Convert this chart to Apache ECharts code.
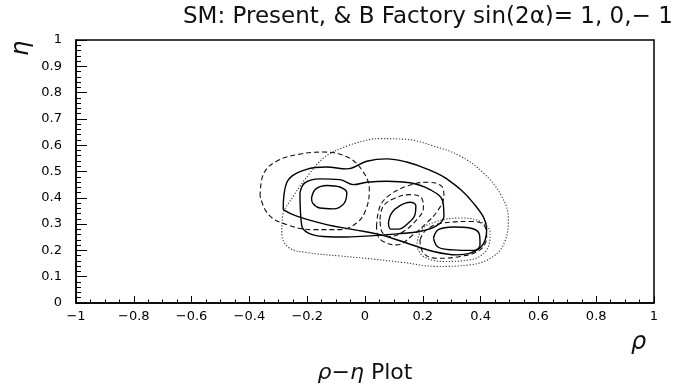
<!DOCTYPE html>
<html><head><meta charset="utf-8">
<script src="https://cdn.jsdelivr.net/npm/echarts/dist/echarts.min.js"></script>
<style>html,body{margin:0;padding:0;background:#fff}#c{width:683px;height:388px}</style>
</head><body><div id="c"></div>
<script>
// ---- data (rho, eta) ----
const titleText = 'SM: Present, & B Factory sin(2\u03b1)= 1, 0,\u2212 1';
const xNameGreek = '\u03c1\u2212\u03b7';
const xNameWord = ' Plot';
const rhoName = '\u03c1';
const etaName = '\u03b7';

const solidCoreLeft = [[-0.185,0.399],[-0.170,0.434],[-0.130,0.447],[-0.087,0.441],[-0.063,0.419],[-0.073,0.378],[-0.110,0.358],[-0.156,0.361],[-0.181,0.380]];
const solidCoreCenter = [[0.081,0.304],[0.092,0.342],[0.121,0.370],[0.156,0.383],[0.176,0.370],[0.173,0.336],[0.150,0.304],[0.115,0.281],[0.089,0.281]];
const solidCoreRight = [[0.237,0.247],[0.254,0.279],[0.306,0.289],[0.363,0.285],[0.396,0.260],[0.398,0.221],[0.375,0.200],[0.306,0.202],[0.254,0.212]];
const solidMid = [[-0.225,0.419],[-0.208,0.457],[-0.156,0.472],[-0.087,0.469],[-0.040,0.450],[0.006,0.459],[0.075,0.463],[0.156,0.457],[0.225,0.431],[0.269,0.387],[0.273,0.330],[0.248,0.294],[0.190,0.272],[0.110,0.263],[0.029,0.256],[-0.063,0.251],[-0.144,0.253],[-0.196,0.266],[-0.219,0.294]];
const solidOuter = [[-0.283,0.355],[-0.271,0.457],[-0.202,0.508],[-0.133,0.517],[-0.063,0.510],[0.006,0.539],[0.075,0.548],[0.144,0.536],[0.213,0.510],[0.283,0.472],[0.375,0.380],[0.421,0.279],[0.398,0.209],[0.317,0.183],[0.237,0.196],[0.144,0.228],[0.052,0.260],[-0.040,0.279],[-0.133,0.298],[-0.236,0.330]];

const dashedLeft = [[-0.363,0.406],[-0.352,0.489],[-0.306,0.539],[-0.231,0.565],[-0.144,0.574],[-0.063,0.556],[-0.012,0.508],[0.015,0.431],[0.003,0.355],[-0.029,0.304],[-0.087,0.279],[-0.179,0.279],[-0.271,0.298],[-0.334,0.336]];
const dashedCenterInner = [[0.052,0.317],[0.063,0.368],[0.104,0.399],[0.156,0.412],[0.196,0.399],[0.202,0.361],[0.179,0.317],[0.133,0.272],[0.087,0.253],[0.058,0.272]];
const dashedCenterOuter = [[0.040,0.291],[0.052,0.368],[0.087,0.412],[0.144,0.444],[0.213,0.459],[0.265,0.444],[0.273,0.406],[0.254,0.355],[0.213,0.304],[0.167,0.260],[0.110,0.221],[0.063,0.234],[0.043,0.260]];
const dashedRight = [[0.190,0.240],[0.213,0.279],[0.271,0.304],[0.363,0.310],[0.409,0.298],[0.421,0.253],[0.398,0.202],[0.329,0.177],[0.248,0.170],[0.202,0.190]];

const dottedOuter = [[-0.104,0.578],[-0.035,0.607],[0.052,0.625],[0.144,0.622],[0.237,0.597],[0.329,0.559],[0.409,0.495],[0.473,0.406],[0.496,0.317],[0.484,0.234],[0.444,0.177],[0.363,0.145],[0.248,0.139],[0.133,0.154],[0.029,0.167],[-0.087,0.179],[-0.202,0.192],[-0.265,0.212],[-0.288,0.266],[-0.285,0.330],[-0.248,0.406],[-0.190,0.495],[-0.144,0.551]];
const dottedRight = [[0.179,0.215],[0.196,0.279],[0.248,0.310],[0.329,0.323],[0.398,0.310],[0.433,0.266],[0.421,0.202],[0.363,0.164],[0.271,0.158],[0.202,0.177]];

const solidSet = [solidCoreLeft, solidCoreCenter, solidCoreRight, solidMid, solidOuter];
const dashedSet = [dashedLeft, dashedCenterInner, dashedCenterOuter, dashedRight];
const dottedSet = [dottedOuter, dottedRight];

// ---- chart ----
const FONT = 'DejaVu Sans';
function loop(a){ return a.concat([a[0]]); }
function mk(arr, style){
  return { type:'line', data: loop(arr), smooth:0.4, showSymbol:false, silent:true,
           lineStyle: style, z: 3 };
}
const series = [];
solidSet.forEach(a => series.push(mk(a, {color:'#000', width:1.4, type:'solid'})));
dashedSet.forEach(a => series.push(mk(a, {color:'#111', width:1.1, type:[5,3]})));
dottedSet.forEach(a => series.push(mk(a, {color:'#333', width:1.1, type:[1.2,1.8]})));

function fmt(v){
  const r = Math.round(v*10)/10;
  if (r === 0) return '0';
  const s = Math.abs(r).toString();
  return (r < 0 ? '\u2212' : '') + s;
}

const chart = echarts.init(document.getElementById('c'), null, {renderer:'canvas'});
chart.setOption({
  animation:false,
  backgroundColor:'#fff',
  title:{ text: titleText, left:178, top:1,
          textStyle:{ fontFamily:FONT, fontSize:23, fontWeight:'normal', color:'#111' } },
  grid:{ left:76, right:29, top:40, bottom:85, containLabel:false, outerBoundsMode:'none',
         show:true, borderColor:'#000', borderWidth:1.5, backgroundColor:'transparent' },
  xAxis:{ type:'value', min:-1, max:1, interval:0.2,
          axisLine:{ show:true, onZero:false, lineStyle:{color:'#000', width:1.5} },
          axisTick:{ show:true, inside:true, length:7, lineStyle:{color:'#000', width:1} },
          minorTick:{ show:true, splitNumber:4, length:3.5, lineStyle:{color:'#000', width:1} },
          splitLine:{ show:false },
          axisLabel:{ margin:7, fontFamily:FONT, fontSize:13, color:'#000', formatter: fmt,
                      showMinLabel:true, showMaxLabel:true },
          name: '{g|' + xNameGreek + '}' + xNameWord, nameLocation:'middle', nameGap:59,
          nameTextStyle:{ fontFamily:FONT, fontSize:22, color:'#111',
                          rich:{ g:{ fontFamily:FONT, fontSize:22, fontStyle:'italic', color:'#111' } } } },
  yAxis:{ type:'value', min:0, max:1, interval:0.1,
          axisLine:{ show:true, onZero:false, lineStyle:{color:'#000', width:1.5} },
          axisTick:{ show:true, inside:true, length:11, lineStyle:{color:'#000', width:1} },
          minorTick:{ show:true, splitNumber:5, length:5, lineStyle:{color:'#000', width:1} },
          splitLine:{ show:false },
          axisLabel:{ margin:14, fontFamily:FONT, fontSize:13, color:'#000', formatter: fmt,
                      showMinLabel:true, showMaxLabel:true } },
  graphic:[
    { type:'text', left:631, top:331, style:{ text: rhoName, font:'italic 24px "DejaVu Sans"', fill:'#111' } },
    { type:'text', x:10, y:56, rotation:Math.PI/2, style:{ text: etaName, font:'italic 24px "DejaVu Sans"', fill:'#111' } }
  ],
  series: series
});
</script>
</body></html>
